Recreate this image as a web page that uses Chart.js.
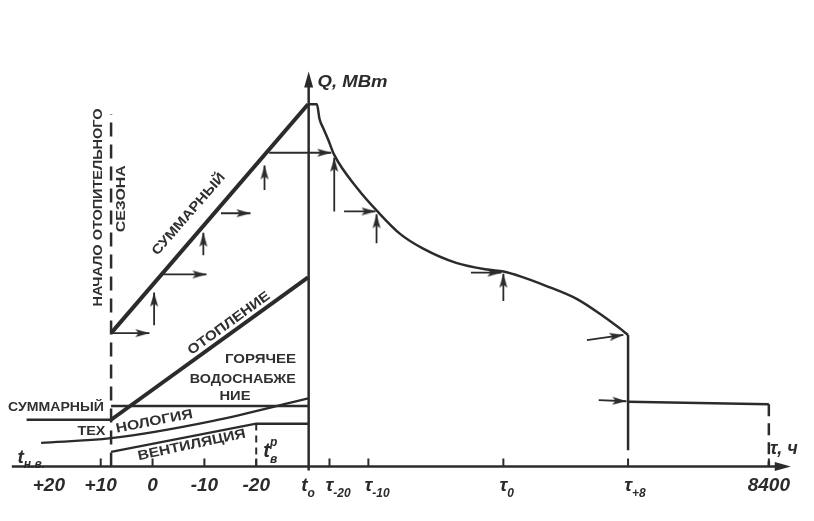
<!DOCTYPE html>
<html><head><meta charset="utf-8">
<script src="https://cdn.jsdelivr.net/npm/chart.js@4.4.1/dist/chart.umd.min.js"></script>
<style>html,body{margin:0;padding:0;background:#fff;}canvas{display:block;}</style>
</head><body>
<canvas id="c" width="814" height="521"></canvas>
<script>
// ================= DATA =================
// Left part: hourly heat load Q vs outdoor temperature T (°C, axis reversed)
// Right part: annual duration graph, Q vs hours τ (ч)
const tHeatStart = 8;       // начало отопительного сезона
const tDesign = -30;        // t_o
const tVentDesign = -20;    // t_в^р
const qTop = 97.3;          // top of the dashed "season start" line

const totalT = [8, -30];            // суммарный (зимний)
const totalQ = [36.8, 100];
const heatingT = [8, -30];          // отопление
const heatingQ = [12.9, 52.2];
const hotWaterT = [8, -30];         // горячее водоснабжение
const hotWaterQ = [16.7, 16.7];
const technologyT = [21.5, 8, -11.7, -30]; // технология
const technologyQ = [6.5, 7.8, 12.6, 18.8];
const ventilationT = [8, -20, -30]; // вентиляция
const ventilationQ = [4.0, 11.8, 11.8];
const summerTotalT = [24.3, 8];     // суммарный (летний)
const summerTotalQ = [12.9, 12.9];

const durationH = [0, 150, 197, 269, 359, 467, 898, 1257, 1669, 2082, 2693, 3285, 3554, 3877, 4308, 4900, 5385, 5672, 5830];
const durationQ = [100, 100, 96.0, 93.3, 90.1, 86.0, 76.6, 70.4, 64.2, 60.2, 56.2, 54.3, 53.8, 52.4, 50.0, 46.2, 41.4, 38.2, 36.3];
const heatEndH = [5830, 5830];      // τ+8 drop
const heatEndQ = [36.3, 4.5];
const summerH = [5830, 8400];
const summerQ = [17.9, 17.2];
const yearEndH = [8400, 8400];
const yearEndQ = [17.2, 0];

// projection arrows [x0, Q0, x1, Q1]
const arrowsT = [
  [8, 36.8, 0.6, 36.8],
  [-0.3, 39.0, -0.3, 48.0],
  [-2.2, 53.0, -10.4, 53.0],
  [-9.8, 58.3, -9.8, 64.5],
  [-13.2, 69.9, -18.9, 69.9],
  [-21.6, 76.3, -21.6, 83.1]
];
const guideT = [[-22.5, 86.6, -30, 86.6]];
const arrowsH = [
  [0, 86.6, 413, 86.6],
  [467, 70.4, 467, 85.2],
  [646, 70.4, 1220, 70.4],
  [1239, 61.6, 1239, 69.6],
  [2962, 53.5, 3518, 53.5],
  [3554, 45.7, 3554, 53.2],
  [5080, 34.9, 5744, 36.3],
  [5295, 18.3, 5800, 18.0]
];

// tick labels
const tempTicks = [20, 10, 0, -10, -20];
const tempTickLabels = ['+20', '+10', '0', '-10', '-20'];
const tempTickMarks = [false, true, true, true, true];
const timeTicks = [380, 1090, 3554, 5830, 8400];
const timeTickMain = ['τ', 'τ', 'τ', 'τ', '8400'];
const timeTickSub = ['-20', '-10', '0', '+8', ''];

// text labels: [text, x, Q, angle, width]
const labelsT = [
  ['СУММАРНЫЙ', -6.98, 69.6, -49, 104],
  ['ОТОПЛЕНИЕ', -14.76, 39.5, -36, 98],
  ['ГОРЯЧЕЕ', -20.83, 29.6, 0, 71],
  ['ВОДОСНАБЖЕ', -17.42, 24.2, 0, 106],
  ['НИЕ', -15.9, 19.4, 0, 31],
  ['СУММАРНЫЙ', 18.63, 16.4, 0, 96],
  ['ТЕХ', 11.8, 9.7, 0, 28],
  ['НОЛОГИЯ', -0.34, 12.4, -11, 78],
  ['ВЕНТИЛЯЦИЯ', -7.55, 5.9, -12, 110],
  ['НАЧАЛО ОТОПИТЕЛЬНОГО', 10.47, 71.5, -90, 198],
  ['СЕЗОНА', 5.92, 73.9, -90, 67]
];

// ================= DRAWING =================
const ink = '#2b2b2b';
const arrowHead = (() => {
  const c = document.createElement('canvas');
  c.width = 10; c.height = 32;
  const g = c.getContext('2d');
  g.fillStyle = ink;
  g.beginPath(); g.moveTo(5, 16); g.lineTo(9, 30); g.lineTo(5, 27); g.lineTo(1, 30); g.closePath(); g.fill();
  return c;
})();

function pts(xs, ys) { return xs.map((x, i) => ({ x: x, y: ys[i] })); }
function line(axis, xs, ys, extra) {
  return Object.assign({ xAxisID: axis, yAxisID: 'y', data: pts(xs, ys), borderColor: ink,
    borderWidth: 2.5, pointRadius: 0, fill: false, tension: 0, borderCapStyle: 'butt' }, extra || {});
}
function arrowRot(c) {
  if (c.type !== 'data') return 0;
  const ds = c.dataset, xs = c.chart.scales[ds.xAxisID], ys = c.chart.scales.y;
  const a = ds.data[0], b = ds.data[1];
  const dx = xs.getPixelForValue(b.x) - xs.getPixelForValue(a.x);
  const dy = ys.getPixelForValue(b.y) - ys.getPixelForValue(a.y);
  return Math.atan2(dx, -dy) * 180 / Math.PI;
}
function arrow(axis, a) {
  return line(axis, [a[0], a[2]], [a[1], a[3]], { borderWidth: 1.8, pointRadius: [0, 5],
    pointStyle: arrowHead, pointRotation: arrowRot });
}

const datasets = [
  line('xT', totalT, totalQ, { borderWidth: 4 }),
  line('xT', heatingT, heatingQ, { borderWidth: 4 }),
  line('xT', hotWaterT, hotWaterQ, { borderWidth: 2.3 }),
  line('xT', technologyT, technologyQ, { borderWidth: 2.3, cubicInterpolationMode: 'monotone' }),
  line('xT', ventilationT, ventilationQ, { borderWidth: 2.3 }),
  line('xT', summerTotalT, summerTotalQ, { borderWidth: 2.3 }),
  line('xT', [tHeatStart, tHeatStart], [0, qTop], { borderWidth: 2.5, borderDash: [14, 8] }),
  line('xT', [tVentDesign, tVentDesign], [0, 11.8], { borderWidth: 2, borderDash: [7, 5] }),
  line('xH', durationH, durationQ, { borderWidth: 2.5, cubicInterpolationMode: 'monotone' }),
  line('xH', heatEndH, heatEndQ, { borderWidth: 2.5 }),
  line('xH', summerH, summerQ, { borderWidth: 2.5 }),
  line('xH', yearEndH, yearEndQ, { borderWidth: 2.5, borderDash: [12, 7] })
];
arrowsT.forEach(a => datasets.push(arrow('xT', a)));
guideT.forEach(a => datasets.push(line('xT', [a[0], a[2]], [a[1], a[3]], { borderWidth: 1.8 })));
arrowsH.forEach(a => datasets.push(arrow('xH', a)));

const FONT = '"Liberation Sans", Arial, sans-serif';
function fitText(ctx, text, x, y, ang, width, font) {
  ctx.save();
  ctx.translate(x, y);
  ctx.rotate(ang * Math.PI / 180);
  ctx.font = font;
  const w = ctx.measureText(text).width;
  if (width) ctx.scale(width / w, 1);
  ctx.textAlign = 'center'; ctx.textBaseline = 'middle';
  ctx.fillText(text, 0, 0);
  ctx.restore();
}
function subText(ctx, x, y, main, sub, sup, size, centerAll) {
  ctx.save();
  ctx.textBaseline = 'alphabetic'; ctx.textAlign = 'left';
  ctx.font = 'italic bold ' + size + 'px ' + FONT;
  const w = ctx.measureText(main).width;
  ctx.font = 'italic bold ' + Math.round(size * 0.62) + 'px ' + FONT;
  const ws = sub ? ctx.measureText(sub).width : 0;
  const x0 = centerAll ? x - (w + ws) / 2 : x - w / 2;
  ctx.font = 'italic bold ' + size + 'px ' + FONT;
  ctx.fillText(main, x0, y);
  ctx.font = 'italic bold ' + Math.round(size * 0.62) + 'px ' + FONT;
  if (sub) ctx.fillText(sub, x0 + w, y + size * 0.3);
  if (sup) ctx.fillText(sup, x0 + w, y - size * 0.55);
  ctx.restore();
}

const decor = {
  id: 'decor',
  afterDatasetsDraw(chart) {
    const ctx = chart.ctx, xT = chart.scales.xT, xH = chart.scales.xH, y = chart.scales.y;
    const y0 = y.getPixelForValue(0), x0 = xH.getPixelForValue(0);
    const xEnd = xH.getPixelForValue(8800), yTopAx = y.getPixelForValue(109);
    ctx.save();
    ctx.strokeStyle = ink; ctx.fillStyle = ink; ctx.lineWidth = 2.5;
    // axes
    ctx.beginPath(); ctx.moveTo(chart.chartArea.left + 5, y0); ctx.lineTo(xEnd - 10, y0); ctx.stroke();
    ctx.beginPath(); ctx.moveTo(xEnd, y0); ctx.lineTo(xEnd - 16, y0 - 4.5); ctx.lineTo(xEnd - 16, y0 + 4.5); ctx.closePath(); ctx.fill();
    ctx.beginPath(); ctx.moveTo(x0, y0 + 4); ctx.lineTo(x0, yTopAx + 10); ctx.stroke();
    ctx.beginPath(); ctx.moveTo(x0, yTopAx); ctx.lineTo(x0 - 4.5, yTopAx + 16); ctx.lineTo(x0 + 4.5, yTopAx + 16); ctx.closePath(); ctx.fill();
    // ticks
    ctx.lineWidth = 2;
    tempTicks.forEach((t, i) => {
      const px = xT.getPixelForValue(t);
      if (tempTickMarks[i]) { ctx.beginPath(); ctx.moveTo(px, y0); ctx.lineTo(px, y0 - 8); ctx.stroke(); }
      subText(ctx, px, y0 + 25, tempTickLabels[i], '', '', 19, false);
    });
    subText(ctx, xT.getPixelForValue(tDesign), y0 + 25, 't', 'o', '', 19, true);
    timeTicks.forEach((h, i) => {
      const px = xH.getPixelForValue(h);
      ctx.beginPath(); ctx.moveTo(px, y0); ctx.lineTo(px, y0 - 8); ctx.stroke();
      subText(ctx, px, y0 + 25, timeTickMain[i], timeTickSub[i], '', 19, false);
    });
    // labels
    ctx.fillStyle = '#303030';
    labelsT.forEach(l => {
      const fs = l[3] === -90 ? 12.5 : 13.5;
      fitText(ctx, l[0], xT.getPixelForValue(l[1]), y.getPixelForValue(l[2]), l[3], l[4], 'bold ' + fs + 'px ' + FONT);
    });
    ctx.fillStyle = ink;
    subText(ctx, xT.getPixelForValue(23.4), y.getPixelForValue(2.7) + 6, 't', 'н.в.', '', 19, true);
    subText(ctx, xT.getPixelForValue(-22.7), y.getPixelForValue(4.6) + 7, 't', 'в', 'р', 20, true);
    ctx.font = 'italic bold 17px ' + FONT;
    ctx.textAlign = 'left'; ctx.textBaseline = 'alphabetic';
    ctx.save();
    const qx = xH.getPixelForValue(162), qy = y.getPixelForValue(106.7) + 7;
    const qw = ctx.measureText('Q, МВт').width;
    ctx.translate(qx, qy); ctx.scale(70 / qw, 1); ctx.fillText('Q, МВт', 0, 0);
    ctx.restore();
    ctx.font = 'italic bold 18px ' + FONT;
    ctx.fillText('τ, ч', xH.getPixelForValue(8419), y.getPixelForValue(5.1) + 6);
    ctx.restore();
  }
};

new Chart(document.getElementById('c'), {
  type: 'line',
  data: { datasets: datasets },
  options: {
    responsive: false, animation: false, devicePixelRatio: 1,
    layout: { padding: 0 },
    plugins: { legend: { display: false }, tooltip: { enabled: false } },
    scales: {
      xT: { type: 'linear', axis: 'x', display: false, reverse: true, min: -126.3, max: 28.12 },
      xH: { type: 'linear', axis: 'x', display: false, min: -5510, max: 9100 },
      y: { type: 'linear', display: false, min: -13.17, max: 126.88 }
    }
  },
  plugins: [decor]
});
</script>
</body></html>
